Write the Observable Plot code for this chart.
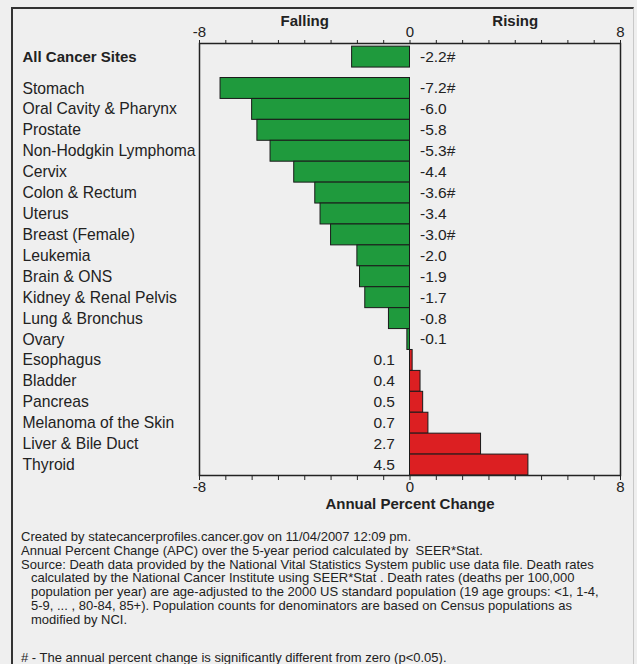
<!DOCTYPE html>
<html>
<head>
<meta charset="utf-8">
<script src="https://cdn.jsdelivr.net/npm/d3@7"></script>
<script src="https://cdn.jsdelivr.net/npm/@observablehq/plot@0.6"></script>
<style>
  html, body { margin: 0; padding: 0; background: #efefef; }
  #wrap { position: relative; width: 637px; height: 664px; background: #efefef; overflow: hidden;
          font-family: "Liberation Sans", Arial, sans-serif; color: #222; }
  #border { position: absolute; left: 11px; top: 7px; width: 620px; height: 670px;
            border-top: 2px solid #333; border-left: 2px solid #333; border-right: 1px solid #c8c8c8; }
  #chart { position: absolute; left: 0; top: 0; }
  #notes { position: absolute; left: 21px; top: 530px; font-size: 13px; line-height: 13.8px; white-space: nowrap; }
  #notes .ind { padding-left: 10px; }
  #notes .gap { height: 24px; }
</style>
</head>
<body>
<div id="wrap">
  <div id="border"></div>
  <div id="chart"></div>
  <div id="notes">
    <div>Created by statecancerprofiles.cancer.gov on 11/04/2007 12:09 pm.</div>
    <div>Annual Percent Change (APC) over the 5-year period calculated by&nbsp; SEER*Stat.</div>
    <div>Source: Death data provided by the National Vital Statistics System public use data file. Death rates</div>
    <div class="ind">calculated by the National Cancer Institute using SEER*Stat . Death rates (deaths per 100,000</div>
    <div class="ind">population per year) are age-adjusted to the 2000 US standard population (19 age groups: &lt;1, 1-4,</div>
    <div class="ind">5-9, ... , 80-84, 85+). Population counts for denominators are based on Census populations as</div>
    <div class="ind">modified by NCI.</div>
    <div class="gap"></div>
    <div># - The annual percent change is significantly different from zero (p&lt;0.05).</div>
  </div>
</div>
<script>
const sites = ["All Cancer Sites", "Stomach", "Oral Cavity & Pharynx", "Prostate", "Non-Hodgkin Lymphoma",
  "Cervix", "Colon & Rectum", "Uterus", "Breast (Female)", "Leukemia", "Brain & ONS",
  "Kidney & Renal Pelvis", "Lung & Bronchus", "Ovary", "Esophagus", "Bladder", "Pancreas",
  "Melanoma of the Skin", "Liver & Bile Duct", "Thyroid"];
const apc = [-2.2, -7.2, -6.0, -5.8, -5.3, -4.4, -3.6, -3.4, -3.0, -2.0, -1.9, -1.7, -0.8, -0.1,
  0.1, 0.4, 0.5, 0.7, 2.7, 4.5];
const significant = [true, true, false, false, true, false, true, false, true, false, false, false,
  false, false, false, false, false, false, false, false];
const xTicks = d3.range(-8, 9);
const xTickLabels = [-8, 0, 8];
const headers = ["Falling", "Rising"];
const headerX = [-4, 4];
const xTitle = "Annual Percent Change";

const groupGap = 0.5; // gap after the summary row
const rows = sites.map((site, i) => ({
  site, apc: apc[i],
  label: apc[i].toFixed(1) + (significant[i] ? "#" : ""),
  pos: i === 0 ? 0 : i + groupGap,
  summary: i === 0
}));

const fmt = d => xTickLabels.includes(d) ? String(d) : "";

const chart = Plot.plot({
  width: 637, height: 520,
  marginLeft: 199, marginRight: 17, marginTop: 43, marginBottom: 45,
  x: {domain: [-8, 8], axis: null},
  y: {domain: [-0.65, sites.length - 1 + groupGap + 0.5], reverse: true, axis: null},
  style: {background: "transparent", fontFamily: "'Liberation Sans', Arial, sans-serif", fontSize: "15px", color: "#222", overflow: "visible"},
  marks: [
    Plot.rect(rows, {x1: d => 0, x2: "apc", y1: d => d.pos - 0.5, y2: d => d.pos + 0.5,
      fill: d => d.apc < 0 ? "#1f9a3d" : "#dc1f22", stroke: "#1a1a1a", strokeWidth: 1}),
    Plot.frame({stroke: "#222", strokeWidth: 1.5}),
    Plot.axisX({anchor: "top", ticks: xTicks, tickSize: 4, tickPadding: 3, tickFormat: fmt, label: null, fontSize: 15, stroke: "#222"}),
    Plot.axisX({anchor: "bottom", ticks: xTicks, tickSize: 5, tickPadding: 1, tickFormat: fmt, label: null, fontSize: 15, stroke: "#222"}),
    Plot.text(headers, {x: (d, i) => headerX[i], text: d => d, frameAnchor: "top", dy: -28, fontWeight: "bold", fontSize: 15}),
    Plot.text([xTitle], {x: d => 0, text: d => d, frameAnchor: "bottom", dy: 33, fontWeight: "bold", fontSize: 15}),
    Plot.text(rows.filter(d => d.summary), {y: "pos", text: "site", frameAnchor: "left", textAnchor: "start", dx: -177, fontWeight: "bold", fontSize: 15}),
    Plot.text(rows.filter(d => !d.summary), {y: "pos", text: "site", frameAnchor: "left", textAnchor: "start", dx: -177, fontSize: 15.7}),
    Plot.text(rows.filter(d => d.apc < 0), {x: d => 0, y: "pos", text: "label", textAnchor: "start", dx: 10, fontSize: 15.5}),
    Plot.text(rows.filter(d => d.apc >= 0), {x: d => 0, y: "pos", text: "label", textAnchor: "end", dx: -15, fontSize: 15.5})
  ]
});
document.getElementById("chart").appendChild(chart);
</script>
</body>
</html>
